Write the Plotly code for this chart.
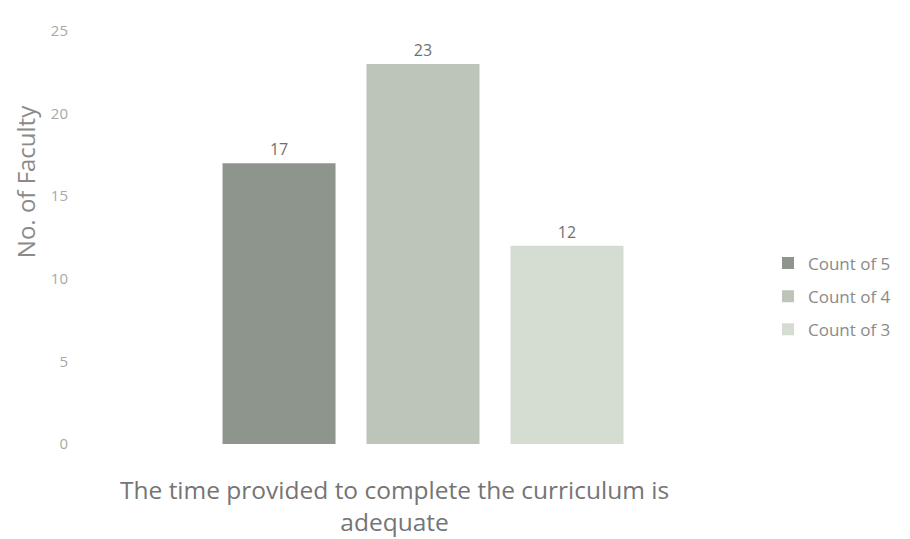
import plotly.graph_objects as go

x_title = "The time provided to complete the curriculum is<br>adequate"
y_title = "No. of Faculty"
series_names = ["Count of 5", "Count of 4", "Count of 3"]
series_values = [[17], [23], [12]]
colors = ["#8e958c", "#bdc5bb", "#d5dcd2"]

FONT = "Open Sans"

fig = go.Figure()
for name, vals, col in zip(series_names, series_values, colors):
    fig.add_trace(go.Bar(
        x=["q"], y=vals, name=name, marker=dict(color=col, line=dict(width=0)),
        text=[str(v) for v in vals], textposition="outside",
        textfont=dict(color="#707070", size=16, family=FONT),
        cliponaxis=False, legendgroup=name,
    ))

fig.update_layout(
    width=910, height=539,
    paper_bgcolor="white", plot_bgcolor="white",
    barmode="group", bargap=0.374, bargroupgap=0.215,
    margin=dict(l=70, r=150, t=12, b=103),
    font=dict(family=FONT, color="#8a8a8a"),
    showlegend=True,
    legend=dict(x=1.0, xanchor="left", y=0.357, yanchor="middle",
                font=dict(size=17, color="#8a8a8a", family=FONT), tracegroupgap=8,
                itemwidth=30),
    xaxis=dict(showticklabels=False, showgrid=False, zeroline=False, showline=False,
               ticks=""),
    yaxis=dict(range=[0, 25], dtick=5, showgrid=False, zeroline=False, showline=False,
               tickfont=dict(size=15, color="#a8a8a8", family=FONT), ticks="",
               ticklabelstandoff=9),
    annotations=[
        dict(text=y_title, textangle=-90, xref="paper", yref="paper",
             x=-0.0768, y=0.634, xanchor="center", yanchor="middle", showarrow=False,
             font=dict(size=24, color="#8a8a8a", family=FONT)),
        dict(text=x_title, xref="paper", yref="paper",
             x=0.459, y=-0.1486, xanchor="center", yanchor="middle", showarrow=False,
             font=dict(size=24.5, color="#757575", family=FONT)),
    ],
)

fig.write_html("out.html")
